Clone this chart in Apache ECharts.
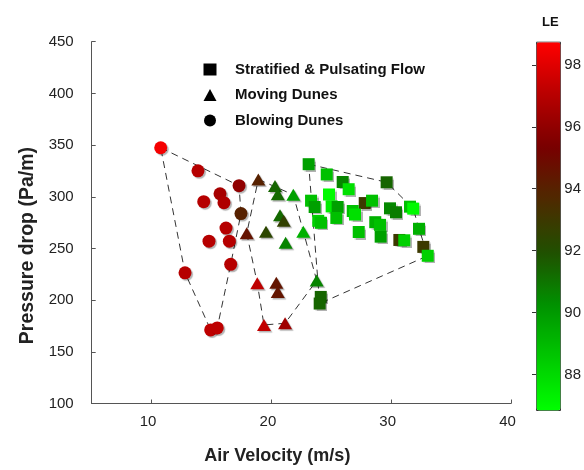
<!DOCTYPE html>
<html>
<head>
<meta charset="utf-8">
<title>Pressure drop vs air velocity</title>
<script src="https://cdn.jsdelivr.net/npm/echarts@6/dist/echarts.min.js"></script>
<style>
  html, body { margin: 0; padding: 0; background: #fff; }
  #chart { width: 584px; height: 470px; }
</style>
</head>
<body>
<div id="chart"></div>
<script>
var seriesNames = ['Stratified & Pulsating Flow', 'Moving Dunes', 'Blowing Dunes'];

// Stratified & pulsating flow (squares)
var flowX  = [23.11, 24.62, 25.95, 29.62, 24.81, 26.45, 23.31, 23.61, 25.03, 25.53, 27.79, 28.40, 26.79, 26.98, 25.42, 23.91,
              24.14, 29.90, 30.40, 31.57, 31.84, 28.67, 29.07, 27.29, 29.12, 30.68, 31.09, 32.32, 32.68, 33.05, 24.12, 24.03];
var flowY  = [331.5, 321.6, 314.3, 314.0, 302.2, 307.3, 296.2, 290.1, 290.7, 290.1, 293.9, 296.2, 286.2, 282.8, 279.5, 276.7,
              274.8, 288.8, 285.0, 290.4, 288.5, 275.4, 272.8, 265.9, 261.4, 258.2, 257.9, 269.0, 251.5, 242.9, 203.1, 196.7];
var flowLE = [89.8, 88.8, 90.6, 91.4, 87.0, 87.8, 88.8, 89.8, 87.4, 89.8, 93.0, 88.8, 88.8, 87.8, 88.8, 88.3,
              88.8, 90.5, 90.8, 88.8, 87.0, 89.3, 88.8, 88.8, 89.8, 93.0, 88.3, 89.3, 93.0, 88.3, 91.4, 91.4];

// Moving dunes (triangles)
var moveX  = [18.91, 20.30, 20.53, 21.83, 20.72, 21.03, 17.94, 19.55, 22.66, 21.19, 18.82, 20.41, 20.53, 23.78, 19.38, 21.14];
var moveY  = [316.8, 310.5, 302.5, 301.9, 282.1, 276.7, 264.6, 266.2, 266.2, 255.6, 216.4, 216.8, 207.8, 219.0, 176.0, 177.6];
var moveLE = [94.0, 91.4, 91.3, 89.8, 91.3, 92.6, 94.6, 92.4, 89.3, 90.6, 97.2, 94.5, 94.5, 90.6, 97.3, 96.4];

// Blowing dunes (circles)
var blowX  = [10.76, 13.87, 17.30, 15.71, 14.35, 16.04, 17.46, 16.21, 14.79, 16.49, 12.79, 16.60, 14.93, 15.48];
var blowY  = [347.4, 325.1, 310.7, 302.9, 295.2, 294.3, 283.7, 269.7, 257.0, 257.0, 226.4, 234.6, 171.2, 173.1];
var blowLE = [98.5, 97.0, 96.0, 96.6, 97.0, 96.8, 94.0, 97.0, 97.0, 97.0, 97.0, 97.0, 97.2, 97.2];

// dashed outline of each regime, as indices into the arrays above
var flowHull = [0, 3, 20, 27, 29, 31, 0];
var moveHull = [0, 3, 13, 15, 14, 10, 6, 0];
var blowHull = [0, 2, 6, 11, 13, 12, 10, 0];

var xTicks = [10, 20, 30, 40];
var leTicks = [88, 90, 92, 94, 96, 98];
var leMin = 86.85, leMax = 98.75;

var FONT = '"Liberation Sans", Arial, Helvetica, sans-serif';
var leColors = ['#00ff00', '#00c800', '#009200', '#205000', '#4e2a00', '#780000', '#b80000', '#ff0000'];

function points(xs, ys, les){
  var out = [];
  for(var i=0;i<xs.length;i++) out.push([xs[i], ys[i], les[i]]);
  return out;
}

function outline(xs, ys, idx){
  return idx.map(function(i){ return [xs[i], ys[i]]; });
}

function hullSeries(xs, ys, idx){
  return {
    type: 'line', data: outline(xs, ys, idx), symbol: 'none', silent: true, z: 1,
    lineStyle: { color: '#333', width: 1, type: [7, 5] }
  };
}

function scatterSeries(name, symbol, size, data){
  return {
    name: name, type: 'scatter', symbol: symbol, symbolSize: size, data: data, z: 3,
    itemStyle: { opacity: 1, shadowColor: 'rgba(0,0,0,0.3)', shadowBlur: 1, shadowOffsetX: 1.5, shadowOffsetY: 1.5 }
  };
}

var legendIcon = { color: '#000', opacity: 1, shadowColor: 'transparent', shadowBlur: 0, shadowOffsetX: 0, shadowOffsetY: 0 };

var option = {
  animation: false,
  title: { text: 'LE', left: 537, top: 11, textStyle: { fontFamily: FONT, fontSize: 13, fontWeight: 'bold', color: '#111' } },
  legend: {
    orient: 'vertical', left: 203.5, top: 61.5, padding: 0,
    itemWidth: 13, itemHeight: 12, itemGap: 9.5,
    textStyle: { fontFamily: FONT, fontSize: 15, fontWeight: 'bold', color: '#111', lineHeight: 16, padding: [0, 0, 0, 13.5] },
    data: [
      { name: seriesNames[0], icon: 'rect', itemStyle: legendIcon },
      { name: seriesNames[1], icon: 'triangle', itemStyle: legendIcon },
      { name: seriesNames[2], icon: 'circle', itemStyle: legendIcon }
    ]
  },
  grid: [
    { left: 91.7, right: 73, top: 41.7, bottom: 60.5 },
    { left: 536, width: 24, top: 41.7, height: 368.3 }
  ],
  xAxis: [{
    type: 'value', min: 5, max: 40,
    name: 'Air Velocity (m/s)', nameLocation: 'middle', nameGap: 43.5,
    nameTextStyle: { fontFamily: FONT, fontSize: 18, fontWeight: 'bold', color: '#222', padding: [0, 48, 0, 0] },
    axisLine: { show: true, lineStyle: { color: '#555' } },
    axisTick: { inside: true, length: 4, customValues: xTicks, lineStyle: { color: '#555' } },
    axisLabel: { customValues: xTicks, margin: 11, fontFamily: FONT, fontSize: 15, color: '#222', padding: [0, 7, 0, 0] },
    splitLine: { show: false }
  }, {
    type: 'value', gridIndex: 1, show: false
  }],
  yAxis: [{
    type: 'value', min: 100, max: 450, interval: 50,
    name: 'Pressure drop (Pa/m)', nameLocation: 'middle', nameGap: 53, nameRotate: 90,
    nameTextStyle: { fontFamily: FONT, fontSize: 19.5, fontWeight: 'bold', color: '#222', padding: [0, 46, 0, 0] },
    axisLine: { show: true, lineStyle: { color: '#555' } },
    axisTick: { inside: true, length: 4, lineStyle: { color: '#555' } },
    axisLabel: { margin: 18, fontFamily: FONT, fontSize: 15, color: '#222', padding: [0, 0, 9, 0] },
    splitLine: { show: false }
  }, {
    // colour bar scale
    type: 'value', gridIndex: 1, position: 'right', min: leMin, max: leMax,
    axisLine: { show: false },
    axisTick: { inside: true, length: 4, customValues: leTicks, lineStyle: { color: '#333' } },
    axisLabel: { customValues: leTicks, margin: 6, fontFamily: FONT, fontSize: 15, color: '#222', padding: [0, 0, 8, 0] },
    splitLine: { show: false }
  }],
  visualMap: {
    type: 'continuous', min: leMin, max: leMax, dimension: 2, seriesIndex: [3, 4, 5],
    calculable: false, hoverLink: false, text: null, padding: 0,
    left: 536, top: 41.7, itemWidth: 24, itemHeight: 368.3,
    borderColor: '#333', borderWidth: 1,
    inRange: { color: leColors }
  },
  series: [
    hullSeries(flowX, flowY, flowHull),
    hullSeries(moveX, moveY, moveHull),
    hullSeries(blowX, blowY, blowHull),
    scatterSeries(seriesNames[0], 'rect', 12, points(flowX, flowY, flowLE)),
    scatterSeries(seriesNames[1], 'triangle', [14, 12], points(moveX, moveY, moveLE)),
    scatterSeries(seriesNames[2], 'circle', 13, points(blowX, blowY, blowLE))
  ]
};

var chart = echarts.init(document.getElementById('chart'));
chart.setOption(option);
</script>
</body>
</html>
